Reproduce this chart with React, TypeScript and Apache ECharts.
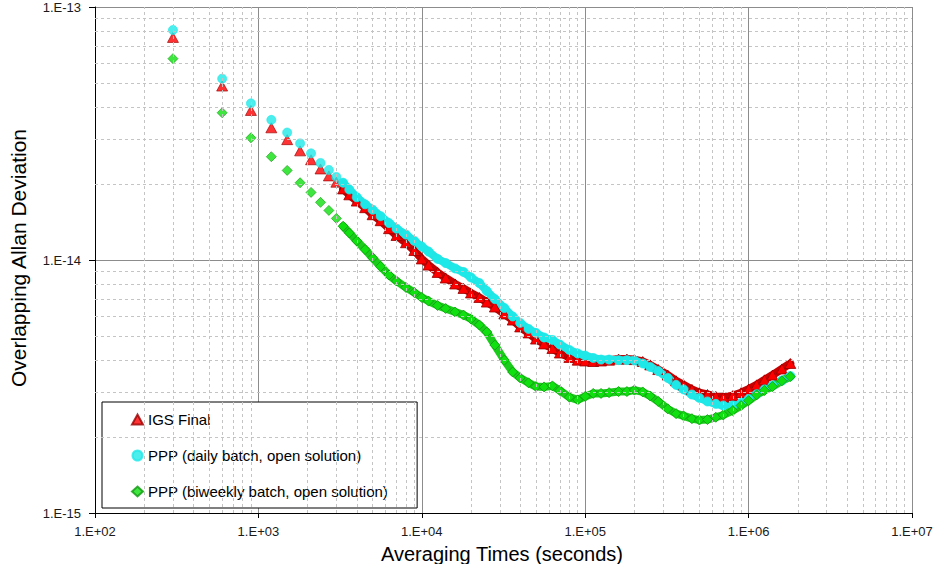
import React, { useEffect, useRef } from "react";
import * as echarts from "echarts";

// ---- data (tau in seconds, overlapping Allan deviation) ----
const earlyTau = [300, 600, 900, 1200, 1500, 1800, 2100, 2400, 2700, 3000];
const igsEarly = [7.58e-14, 4.87e-14, 3.9e-14, 3.33e-14, 2.99e-14, 2.7e-14, 2.49e-14, 2.29e-14, 2.15e-14, 2.03e-14];
const dailyEarly = [8.11e-14, 5.21e-14, 4.16e-14, 3.58e-14, 3.19e-14, 2.89e-14, 2.64e-14, 2.42e-14, 2.27e-14, 2.13e-14];
const biweeklyEarly = [6.25e-14, 3.82e-14, 3.04e-14, 2.56e-14, 2.26e-14, 2.02e-14, 1.85e-14, 1.69e-14, 1.57e-14, 1.46e-14];

const denseTau = [
  3300, 3600, 4000, 4500, 5000, 5600, 6300, 7000, 8000, 9000,
  1e4, 1.1e4, 1.25e4, 1.4e4, 1.6e4, 1.8e4, 2e4, 2.25e4, 2.5e4, 2.8e4,
  3.2e4, 3.6e4, 4e4, 4.5e4, 5e4, 5.6e4, 6.3e4, 7e4, 8e4, 9e4,
  1e5, 1.12e5, 1.25e5, 1.4e5, 1.6e5, 1.8e5, 2e5, 2.25e5, 2.5e5, 2.8e5,
  3.2e5, 3.6e5, 4e5, 4.5e5, 5e5, 5.6e5, 6.3e5, 7e5, 8e5, 9e5,
  1e6, 1.12e6, 1.25e6, 1.4e6, 1.6e6, 1.8e6,
];
const igsDense = [
  1.91e-14, 1.81e-14, 1.71e-14, 1.61e-14, 1.51e-14, 1.43e-14, 1.33e-14, 1.25e-14, 1.17e-14, 1.09e-14,
  1.01e-14, 9.55e-15, 8.93e-15, 8.49e-15, 8.04e-15, 7.72e-15, 7.41e-15, 7.11e-15, 6.82e-15, 6.52e-15,
  6.12e-15, 5.79e-15, 5.44e-15, 5.15e-15, 4.87e-15, 4.66e-15, 4.47e-15, 4.29e-15, 4.12e-15, 4.02e-15,
  3.99e-15, 3.97e-15, 3.99e-15, 4.02e-15, 4.06e-15, 4.06e-15, 4.04e-15, 3.97e-15, 3.85e-15, 3.69e-15,
  3.51e-15, 3.33e-15, 3.21e-15, 3.08e-15, 2.99e-15, 2.94e-15, 2.89e-15, 2.87e-15, 2.91e-15, 2.99e-15,
  3.09e-15, 3.21e-15, 3.36e-15, 3.51e-15, 3.71e-15, 3.9e-15,
];
const dailyDense = [
  2.02e-14, 1.9e-14, 1.77e-14, 1.66e-14, 1.58e-14, 1.49e-14, 1.4e-14, 1.33e-14, 1.26e-14, 1.19e-14,
  1.13e-14, 1.08e-14, 1.01e-14, 9.73e-15, 9.26e-15, 8.97e-15, 8.53e-15, 8.11e-15, 7.54e-15, 7.01e-15,
  6.46e-15, 5.98e-15, 5.64e-15, 5.34e-15, 5.15e-15, 4.94e-15, 4.83e-15, 4.63e-15, 4.41e-15, 4.27e-15,
  4.19e-15, 4.1e-15, 4.04e-15, 4.04e-15, 4.02e-15, 4.02e-15, 4.01e-15, 3.9e-15, 3.78e-15, 3.64e-15,
  3.42e-15, 3.21e-15, 3.08e-15, 2.94e-15, 2.85e-15, 2.76e-15, 2.7e-15, 2.66e-15, 2.66e-15, 2.72e-15,
  2.82e-15, 2.95e-15, 3.08e-15, 3.19e-15, 3.34e-15, 3.48e-15,
];
const biweeklyDense = [
  1.36e-14, 1.28e-14, 1.19e-14, 1.1e-14, 1.02e-14, 9.43e-15, 8.72e-15, 8.26e-15, 7.79e-15, 7.44e-15,
  7.11e-15, 6.88e-15, 6.61e-15, 6.43e-15, 6.23e-15, 6.06e-15, 5.85e-15, 5.54e-15, 5.19e-15, 4.61e-15,
  4.02e-15, 3.61e-15, 3.42e-15, 3.27e-15, 3.16e-15, 3.15e-15, 3.18e-15, 3.05e-15, 2.87e-15, 2.8e-15,
  2.89e-15, 2.97e-15, 2.97e-15, 2.99e-15, 3.02e-15, 3.02e-15, 3.06e-15, 3.01e-15, 2.9e-15, 2.76e-15,
  2.58e-15, 2.47e-15, 2.42e-15, 2.36e-15, 2.33e-15, 2.34e-15, 2.39e-15, 2.44e-15, 2.54e-15, 2.66e-15,
  2.78e-15, 2.93e-15, 3.05e-15, 3.16e-15, 3.33e-15, 3.46e-15,
];

const seriesNames = [
  "IGS Final",
  "PPP (daily batch, open solution)",
  "PPP (biweekly batch, open solution)",
];
const xTitle = "Averaging Times (seconds)";
const yTitle = "Overlapping Allan Deviation";

const xRange = [100, 1e7];
const yRange = [1e-15, 1e-13];
const xDecades = [100, 1000, 1e4, 1e5, 1e6];
const yDecades = [1e-15, 1e-14];
const minorSteps = [2, 3, 4, 5, 6, 7, 8, 9];

const FONT = "'Liberation Sans', Arial, sans-serif";

function sciLabel(v: number) {
  const e = Math.round(Math.log10(v));
  const s = e < 0 ? "-" : "+";
  const a = Math.abs(e);
  return "1.E" + s + (a < 10 ? "0" + a : String(a));
}

export default function App() {
  const ref = useRef<HTMLDivElement>(null);
  useEffect(() => {
    if (!ref.current) return;
    const chart = echarts.init(ref.current, null, { renderer: "svg" });

    const minorX: number[] = [];
    xDecades.forEach((d) => minorSteps.forEach((k) => minorX.push(k * d)));
    const minorY: number[] = [];
    yDecades.forEach((d) => minorSteps.forEach((k) => minorY.push(k * d)));

    const mk = (
      name: string,
      early: number[],
      dense: number[],
      symbol: string,
      size: number | number[],
      fill: string,
      border: string,
      band: string
    ) => [
      {
        type: "scatter",
        name,
        data: earlyTau.map((t, i) => [t, early[i]]),
        symbol,
        symbolSize: size,
        itemStyle: { color: fill, borderColor: border, borderWidth: 0.8 },
        emphasis: { disabled: true },
      },
      {
        type: "line",
        name,
        data: denseTau.map((t, i) => [t, dense[i]]),
        symbol,
        symbolSize: size,
        showSymbol: true,
        lineStyle: { color: band, width: 8, cap: "round", join: "round" },
        itemStyle: { color: fill, borderColor: border, borderWidth: 0.8 },
        emphasis: { disabled: true },
      },
    ];

    chart.setOption({
      animation: false,
      backgroundColor: "#ffffff",
      grid: { left: 95, right: 25, top: 7, bottom: 51, outerBoundsMode: "none", containLabel: false },
      xAxis: {
        type: "log",
        logBase: 10,
        min: xRange[0],
        max: xRange[1],
        axisLine: { show: true, lineStyle: { color: "#000", width: 1 } },
        axisTick: { show: true, length: 5, inside: false, lineStyle: { color: "#000" } },
        axisLabel: { formatter: sciLabel, fontFamily: FONT, fontSize: 13, color: "#1a1a1a", margin: 12 },
        splitLine: { show: true, lineStyle: { color: "#8c8c8c", width: 1 } },
      },
      yAxis: {
        type: "log",
        logBase: 10,
        min: yRange[0],
        max: yRange[1],
        axisLine: { show: true, lineStyle: { color: "#000", width: 1 } },
        axisTick: { show: true, length: 6, inside: false, lineStyle: { color: "#000" } },
        axisLabel: { formatter: sciLabel, fontFamily: FONT, fontSize: 13, color: "#1a1a1a", margin: 14 },
        splitLine: { show: true, lineStyle: { color: "#8c8c8c", width: 1 } },
      },
      legend: {
        show: true,
        orient: "vertical",
        left: 102,
        top: 402,
        padding: [10, 29, 9, 29],
        itemGap: 21,
        itemWidth: 11,
        itemHeight: 10,
        backgroundColor: "#ffffff",
        borderColor: "#000",
        borderWidth: 1,
        borderRadius: 0,
        selectedMode: false,
        textStyle: { fontFamily: FONT, fontSize: 15, color: "#000" },
        data: [
          { name: seriesNames[0], icon: "triangle" },
          { name: seriesNames[1], icon: "circle" },
          { name: seriesNames[2], icon: "diamond" },
        ],
      },
      graphic: [
        {
          type: "text",
          x: 502,
          y: 554,
          style: {
            text: xTitle,
            font: "20px " + FONT,
            fill: "#000",
            textAlign: "center",
            textVerticalAlign: "middle",
          },
        },
        {
          type: "text",
          x: 18,
          y: 258,
          rotation: Math.PI / 2,
          style: {
            text: yTitle,
            font: "21px " + FONT,
            fill: "#000",
            textAlign: "center",
            textVerticalAlign: "middle",
          },
        },
      ],
      series: [
        {
          type: "line",
          name: "__grid",
          data: [],
          silent: true,
          markLine: {
            silent: true,
            symbol: ["none", "none"],
            label: { show: false },
            emphasis: { disabled: true },
            lineStyle: { color: "#c4c4c4", type: [3, 3], width: 1 },
            data: [
              ...minorX.map((v) => [{ coord: [v, yRange[0]] }, { coord: [v, yRange[1]] }]),
              ...minorY.map((v) => [{ coord: [xRange[0], v] }, { coord: [xRange[1], v] }]),
            ],
          },
        },
        ...mk(seriesNames[0], igsEarly, igsDense, "triangle", [11, 10], "#ff0000", "#990000", "#c80000"),
        ...mk(seriesNames[1], dailyEarly, dailyDense, "circle", 9, "#1ee8e8", "#1ee8e8", "#22e4e4"),
        ...mk(seriesNames[2], biweeklyEarly, biweeklyDense, "diamond", 10, "#10e010", "#119911", "#1ccc1c"),
      ],
    });

    return () => chart.dispose();
  }, []);

  return (
    <div
      ref={ref}
      style={{ position: "absolute", left: 0, top: 0, width: 937, height: 564, background: "#fff" }}
    />
  );
}
